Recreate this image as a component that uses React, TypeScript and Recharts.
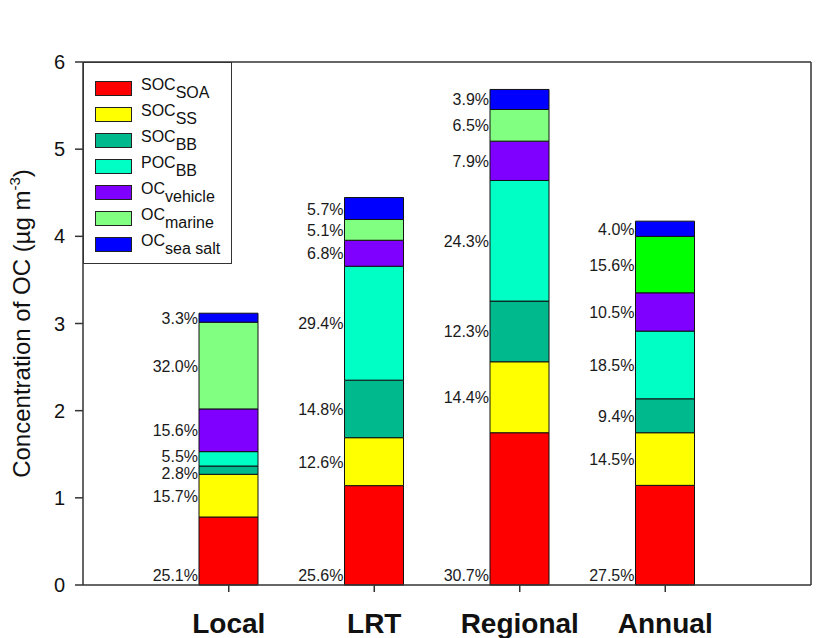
import { Bar, BarChart, Cell, LabelList, Legend, XAxis, YAxis } from "recharts";

const font = '"Liberation Sans", Arial, sans-serif';

const categories = ["Local", "LRT", "Regional", "Annual"];

// µg m-3
const socSoa = [0.78, 1.14, 1.747, 1.143];
const socSs = [0.49, 0.55, 0.814, 0.604];
const socBb = [0.095, 0.66, 0.696, 0.389];
const pocBb = [0.165, 1.307, 1.384, 0.777];
const ocVehicle = [0.49, 0.298, 0.451, 0.439];
const ocMarine = [0.995, 0.238, 0.363, 0.647];
const ocSeaSalt = [0.103, 0.252, 0.23, 0.175];

// percentage labels printed beside each segment
const pctSocSoa = ["25.1%", "25.6%", "30.7%", "27.5%"];
const pctSocSs = ["15.7%", "12.6%", "14.4%", "14.5%"];
const pctSocBb = ["2.8%", "14.8%", "12.3%", "9.4%"];
const pctPocBb = ["5.5%", "29.4%", "24.3%", "18.5%"];
const pctOcVehicle = ["15.6%", "6.8%", "7.9%", "10.5%"];
const pctOcMarine = ["32.0%", "5.1%", "6.5%", "15.6%"];
const pctOcSeaSalt = ["3.3%", "5.7%", "3.9%", "4.0%"];

const yTicks = [0, 1, 2, 3, 4, 5, 6];

const series = [
  { key: "socSoa", main: "SOC", sub: "SOA", color: "#FF0000", values: socSoa, pct: pctSocSoa },
  { key: "socSs", main: "SOC", sub: "SS", color: "#FFFF00", values: socSs, pct: pctSocSs },
  { key: "socBb", main: "SOC", sub: "BB", color: "#00B98C", values: socBb, pct: pctSocBb },
  { key: "pocBb", main: "POC", sub: "BB", color: "#00FFC4", values: pocBb, pct: pctPocBb },
  { key: "ocVehicle", main: "OC", sub: "vehicle", color: "#7F00FF", values: ocVehicle, pct: pctOcVehicle },
  { key: "ocMarine", main: "OC", sub: "marine", color: "#80FF80", values: ocMarine, pct: pctOcMarine },
  { key: "ocSeaSalt", main: "OC", sub: "sea salt", color: "#0000FF", values: ocSeaSalt, pct: pctOcSeaSalt },
];

// the Annual marine segment is a brighter green in the original figure
const annualMarineColor = "#00FF00";

const data = categories.map((name, i) => {
  const row: Record<string, string | number> = { name };
  series.forEach((s) => {
    row[s.key] = s.values[i];
    row[s.key + "Pct"] = s.pct[i];
  });
  return row;
});

// label centres in data units, nudged apart where thin segments would make them collide
const MIN_GAP = 0.19;
const labelShift: number[][] = categories.map((_, i) => {
  let cum = 0;
  const raw = series.map((s) => {
    const c = cum + s.values[i] / 2;
    cum += s.values[i];
    return c;
  });
  const adj = raw.slice();
  for (let pass = 0; pass < 20; pass++) {
    for (let k = 2; k < adj.length; k++) {
      const d = adj[k] - adj[k - 1];
      if (d < MIN_GAP) {
        const push = (MIN_GAP - d) / 2;
        adj[k] += push;
        adj[k - 1] -= push;
      }
    }
  }
  return adj.map((a, k) => a - raw[k]);
});

const pctLabel = (si: number) => (props: any) => {
  const x = Number(props.x);
  const y = Number(props.y);
  const h = Number(props.height);
  const idx = Number(props.index);
  const v = series[si].values[idx];
  const pxPerUnit = v ? h / v : 0;
  const ty = si === 0 ? y + h - 4 : y + h / 2 + 6 - labelShift[idx][si] * pxPerUnit;
  return (
    <text x={x - 1} y={ty} textAnchor="end" fontSize={16} fill="#1a1a1a" fontFamily={font}>
      {props.value}
    </text>
  );
};

const YTitle = (props: any) => {
  const vb = props.viewBox || { x: 0, y: 62, width: 83, height: 523 };
  const cx = 30;
  const cy = vb.y + vb.height / 2;
  return (
    <text
      x={cx}
      y={cy}
      transform={`rotate(-90 ${cx} ${cy})`}
      textAnchor="middle"
      fontSize={24}
      fill="#111"
      fontFamily={font}
    >
      Concentration of OC (µg m
      <tspan dy={-10} fontSize={15}>
        -3
      </tspan>
      <tspan dy={10}>)</tspan>
    </text>
  );
};

const LegendBox = () => (
  <div
    style={{
      width: 149,
      height: 202,
      boxSizing: "border-box",
      border: "1.5px solid #333",
      background: "#fff",
      paddingTop: 12,
      paddingLeft: 11,
      fontFamily: font,
      color: "#111",
    }}
  >
    {series.map((s) => (
      <div key={s.key} style={{ display: "flex", alignItems: "center", height: 26 }}>
        <div
          style={{
            width: 37,
            height: 15,
            boxSizing: "border-box",
            background: s.color,
            border: "1px solid #222",
            marginRight: 9,
          }}
        />
        <span style={{ fontSize: 16, lineHeight: "16px", position: "relative", top: -3, whiteSpace: "nowrap" }}>
          {s.main}
          <span style={{ position: "relative", top: 8 }}>{s.sub}</span>
        </span>
      </div>
    ))}
  </div>
);

export default function App() {
  return (
    <div style={{ position: "absolute", left: 0, top: 0, background: "#fff" }}>
      <BarChart
        width={825}
        height={638}
        data={data}
        margin={{ top: 61, right: 13, bottom: 0, left: 0 }}
      >
        <XAxis
          dataKey="name"
          padding={{ left: 73, right: 73 }}
          height={53}
          tickSize={7}
          tickMargin={21}
          axisLine={{ stroke: "#333", strokeWidth: 1.5 }}
          tickLine={{ stroke: "#333", strokeWidth: 1.5 }}
          tick={{ fontSize: 28, fontWeight: 700, fill: "#111", fontFamily: font }}
        />
        <XAxis
          xAxisId="top"
          orientation="top"
          dataKey="name"
          height={1}
          tick={false}
          tickLine={false}
          axisLine={{ stroke: "#333", strokeWidth: 1.5 }}
        />
        <YAxis
          domain={[0, 6]}
          ticks={yTicks}
          width={83}
          tickSize={8}
          tickMargin={10}
          axisLine={{ stroke: "#333", strokeWidth: 1.5 }}
          tickLine={{ stroke: "#333", strokeWidth: 1.5 }}
          tick={{ fontSize: 20, fill: "#111", fontFamily: font }}
          label={<YTitle />}
        />
        <YAxis
          yAxisId="right"
          orientation="right"
          domain={[0, 6]}
          width={1}
          tick={false}
          tickLine={false}
          axisLine={{ stroke: "#333", strokeWidth: 1.5 }}
        />
        <Legend
          layout="vertical"
          align="center"
          verticalAlign="middle"
          content={<LegendBox />}
          wrapperStyle={{ left: 83, top: 62, width: 149, height: 202 }}
        />
        {series.map((s, si) => (
          <Bar
            key={s.key}
            dataKey={s.key}
            stackId="oc"
            barSize={59}
            fill={s.color}
            stroke="#111"
            strokeWidth={1}
            isAnimationActive={false}
          >
            {s.key === "ocMarine" &&
              categories.map((c) => (
                <Cell key={c} fill={c === "Annual" ? annualMarineColor : s.color} />
              ))}
            <LabelList dataKey={s.key + "Pct"} content={pctLabel(si)} />
          </Bar>
        ))}
      </BarChart>
    </div>
  );
}
